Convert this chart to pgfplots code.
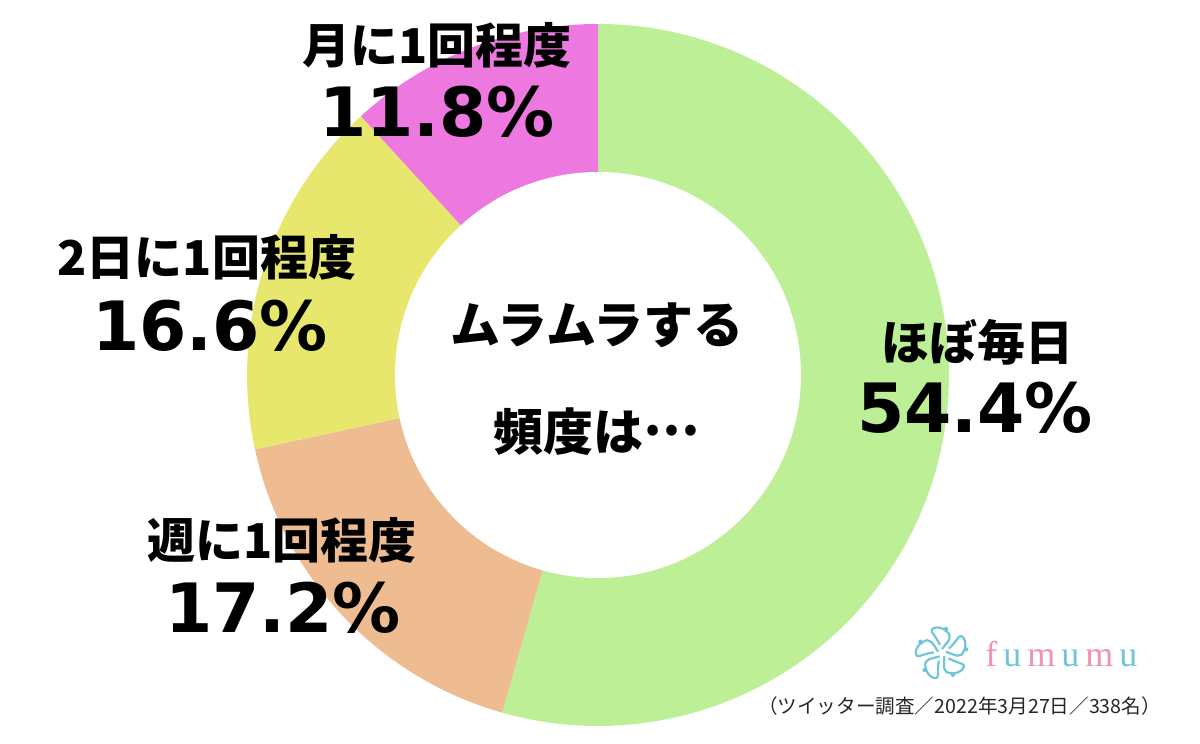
\documentclass[border=0pt]{standalone}
\usepackage{pgfplots}
\pgfplotsset{compat=1.18}
\usepackage{pgfplotstable}
\usepackage{fontspec}
\setmainfont{Noto Sans CJK JP}
\newfontfamily\jp{Noto Sans CJK JP}
\newfontfamily\numf{DejaVu Sans}
\newfontfamily\logof{Liberation Serif}
\usetikzlibrary{calc}
\definecolor{cgreen}{HTML}{BDEF97}
\definecolor{corange}{HTML}{EFBB91}
\definecolor{cyellow}{HTML}{E7E76E}
\definecolor{cmagenta}{HTML}{EC78E0}
\definecolor{lblue}{HTML}{6EC6D6}
\definecolor{lpink}{HTML}{EE93B8}

\pgfplotstableread{
label value
daily 54.4
weekly 17.2
twodays 16.6
monthly 11.8
}\datatable

\begin{document}
\begin{tikzpicture}
\pgfplotstablegetelem{0}{value}\of\datatable \let\va\pgfplotsretval
\pgfplotstablegetelem{1}{value}\of\datatable \let\vb\pgfplotsretval
\pgfplotstablegetelem{2}{value}\of\datatable \let\vc\pgfplotsretval
\pgfplotstablegetelem{3}{value}\of\datatable \let\vd\pgfplotsretval
\pgfmathsetmacro\aA{90}
\pgfmathsetmacro\aB{\aA-3.6*\va}
\pgfmathsetmacro\aC{\aB-3.6*\vb}
\pgfmathsetmacro\aD{\aC-3.6*\vc}
\pgfmathsetmacro\aE{\aD-3.6*\vd}
\begin{axis}[hide axis, scale only axis, width=600pt, height=372pt,
  xmin=0, xmax=1200, ymin=0, ymax=744, clip=false]
\path (rel axis cs:0,0) rectangle (rel axis cs:1,1);
\fill[cgreen] (axis cs:598,369) -- ++(\aA:175.5pt) arc[start angle=\aA, end angle=\aB, radius=175.5pt] -- cycle;
\fill[corange] (axis cs:598,369) -- ++(\aB:175.5pt) arc[start angle=\aB, end angle=\aC, radius=175.5pt] -- cycle;
\fill[cyellow] (axis cs:598,369) -- ++(\aC:175.5pt) arc[start angle=\aC, end angle=\aD, radius=175.5pt] -- cycle;
\fill[cmagenta] (axis cs:598,369) -- ++(\aD:175.5pt) arc[start angle=\aD, end angle=\aE, radius=175.5pt] -- cycle;
\fill[white] (axis cs:598,369) circle[radius=101.5pt];
% labels
\node[font=\jp\bfseries\fontsize{24}{28}\selectfont] at (axis cs:977,402) {ほぼ毎日};
\node[font=\numf\bfseries\fontsize{34}{40}\selectfont] at (axis cs:975,336) {54.4\%};
\node[font=\jp\bfseries\fontsize{24}{28}\selectfont] at (axis cs:437,699) {月に1回程度};
\node[font=\numf\bfseries\fontsize{34}{40}\selectfont] at (axis cs:437,632) {11.8\%};
\node[font=\jp\bfseries\fontsize{24}{28}\selectfont] at (axis cs:207,487) {2日に1回程度};
\node[font=\numf\bfseries\fontsize{34}{40}\selectfont] at (axis cs:210,418) {16.6\%};
\node[font=\jp\bfseries\fontsize{24}{28}\selectfont] at (axis cs:282,204) {週に1回程度};
\node[font=\numf\bfseries\fontsize{34}{40}\selectfont] at (axis cs:283,136) {17.2\%};
\node[font=\jp\bfseries\fontsize{25}{30}\selectfont] at (axis cs:597,419) {ムラムラする};
\node[font=\jp\bfseries\fontsize{25}{30}\selectfont] at (axis cs:597,312) {頻度は\raisebox{0.3em}{…}};
\node[font=\jp\fontsize{9.8}{12}\selectfont, anchor=east, text=black!85] at (axis cs:1168,38) {（ツイッター調査／2022年3月27日／338名）};
\node[font=\logof\fontsize{18}{20}\selectfont, anchor=west, inner sep=0pt] at (axis cs:985,90) {\textcolor{lpink}{f}\hspace{3pt}\textcolor{lblue}{u}\hspace{3pt}\textcolor{lpink}{m}\hspace{3pt}\textcolor{lblue}{u}\hspace{3pt}\textcolor{lpink}{m}\hspace{3pt}\textcolor{lblue}{u}};
\coordinate (F) at (axis cs:942,91);
\end{axis}
\foreach \a in {0,72,...,288}{
  \draw[lblue, line width=1.1pt, rotate around={\a:(F)}]
    ($(F)+(0,2pt)$) .. controls +(3pt,4pt) and +(4pt,-3pt) .. ($(F)+(2pt,11pt)$)
    .. controls +(-3pt,3pt) and +(-4pt,4pt) .. ($(F)+(-4pt,9pt)$)
    .. controls +(2pt,-3pt) and +(-1pt,2pt) .. ($(F)+(-1pt,4pt)$);
  \fill[lblue, rotate around={\a:(F)}] ($(F)+(2pt,12pt)$) circle[radius=1.1pt];
}
\end{tikzpicture}
\end{document}
